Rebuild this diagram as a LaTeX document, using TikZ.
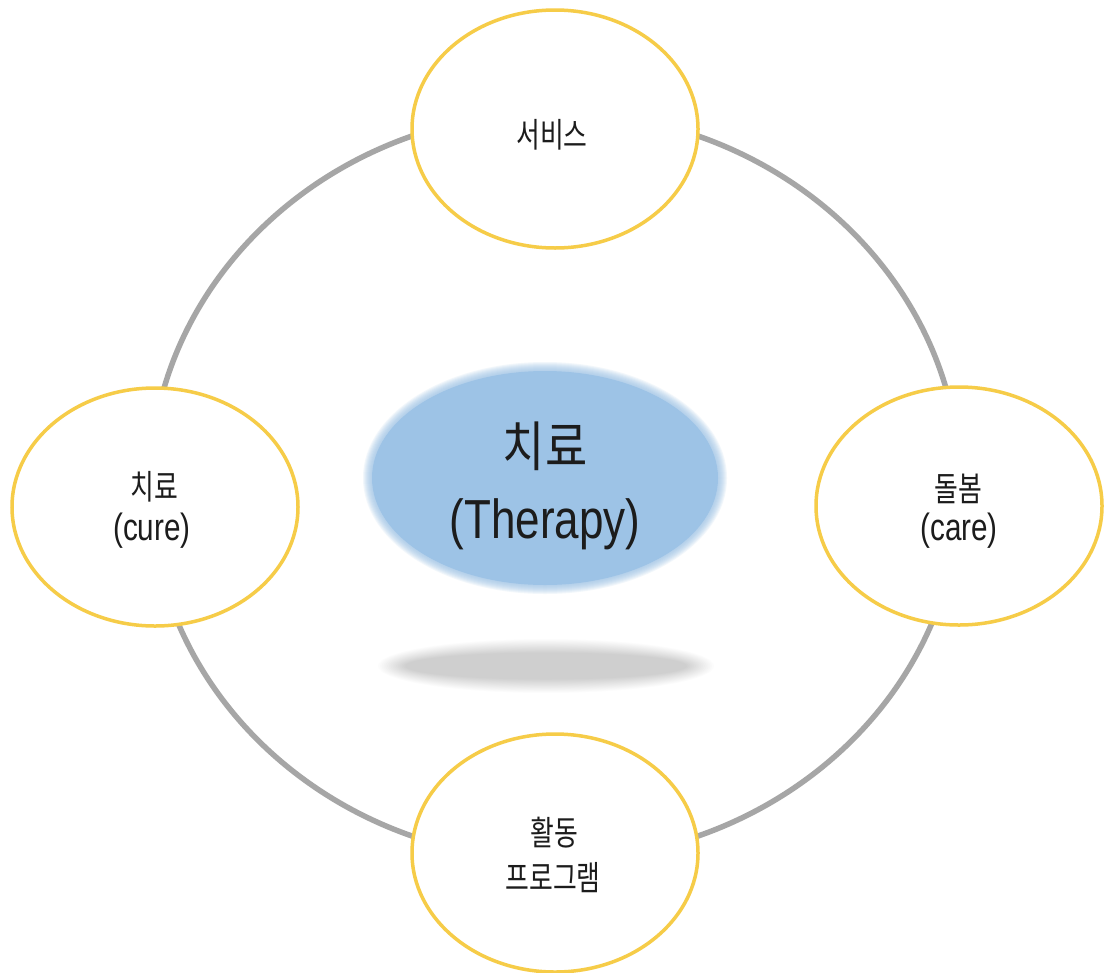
\documentclass[tikz,border=0pt]{standalone}
\usepackage{fontspec}
\usepackage{graphicx}
\setmainfont{Liberation Sans}
\newfontfamily\kr{Noto Sans CJK KR}
\usetikzlibrary{shapes.geometric}
\definecolor{ringc}{RGB}{166,166,166}
\definecolor{goldc}{RGB}{246,204,72}
\definecolor{bluec}{RGB}{157,195,230}
\definecolor{txtc}{RGB}{28,28,28}
\newcommand{\nx}[2]{\scalebox{#1}[1]{#2}}
\tikzset{
  ringstyle/.style={ellipse, draw=ringc, line width=5.5pt, minimum width=810pt, minimum height=748pt, inner sep=0pt},
  topic/.style={ellipse, draw=goldc, fill=white, line width=3.5pt, minimum width=286pt, minimum height=238pt, inner sep=0pt},
  core/.style={ellipse, fill=bluec, minimum width=346pt, minimum height=214pt, inner sep=0pt},
  lbl/.style={anchor=base, inner sep=0pt, text=txtc},
  krs/.style={font=\kr\fontsize{34}{40}\selectfont},
  ens/.style={font=\fontsize{38}{44}\selectfont},
}
\begin{document}
\begin{tikzpicture}[x=1pt,y=-1pt]
\useasboundingbox[fill=white] (0,0) rectangle (1107,972);
% ring
\node[ringstyle] (ring) at (555,486) {};
% shadow under the core
\coordinate (shadowc) at (546,666);
\foreach \i in {0,...,15}{
  \fill[black, opacity=0.013] (shadowc) ellipse ({168-1.8*\i} and {27-0.9*\i});
}
% soft glow of the core
\coordinate (corec) at (545,478);
\foreach \d in {9,8,...,1}{
  \fill[bluec, opacity=0.13] (corec) ellipse ({173+\d} and {107+\d});
}
\node[core] (center) at (corec) {};
% outer topics
\node[topic] (svc) at (555,129) {};
\node[topic] (cure) at (155,507) {};
\node[topic] (care) at (959,506) {};
\node[topic] (act) at (555,853) {};
% labels
\node[lbl, font=\kr\fontsize{54}{60}\selectfont] (t1) at (545,466) {\nx{0.85}{치료}};
\node[lbl, font=\fontsize{55}{60}\selectfont] (t2) at (545,538) {\nx{0.8}{(Therapy)}};
\node[lbl, krs] (s1) at (552,147) {\nx{0.76}{서비스}};
\node[lbl, krs] (c1) at (154,499) {\nx{0.76}{치료}};
\node[lbl, ens] (c2) at (152,540) {\nx{0.78}{(cure)}};
\node[lbl, krs] (r1) at (958,501) {\nx{0.76}{돌봄}};
\node[lbl, ens] (r2) at (959,540) {\nx{0.78}{(care)}};
\node[lbl, krs] (a1) at (554,845) {\nx{0.76}{활동}};
\node[lbl, krs] (a2) at (553,890) {\nx{0.76}{프로그램}};
\end{tikzpicture}
\end{document}
